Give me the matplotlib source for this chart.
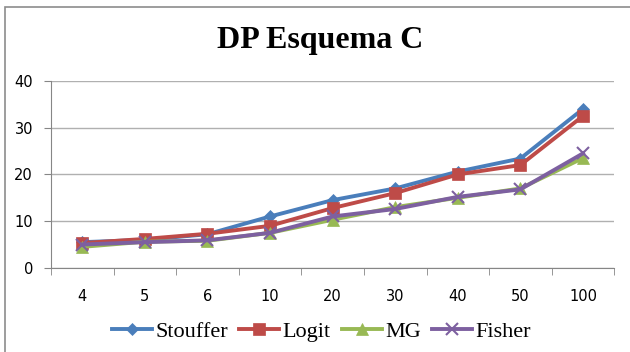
import matplotlib
matplotlib.use("Agg")
import matplotlib.pyplot as plt
from matplotlib.patches import Rectangle
import numpy as np

categories = ["4", "5", "6", "10", "20", "30", "40", "50", "100"]
stouffer = [5.5, 6.0, 7.2, 11.0, 14.5, 17.0, 20.6, 23.4, 34.0]
logit = [5.3, 6.2, 7.3, 9.0, 12.8, 16.0, 20.0, 22.0, 32.5]
mg = [4.5, 5.6, 5.8, 7.5, 10.3, 13.0, 15.0, 17.0, 23.5]
fisher = [5.0, 5.5, 5.9, 7.5, 11.0, 12.6, 15.2, 16.8, 24.5]

series = [
    ("Stouffer", stouffer, "#4A7EBB", "D", 6.5),
    ("Logit", logit, "#BE4B48", "s", 8),
    ("MG", mg, "#98B954", "^", 8.5),
    ("Fisher", fisher, "#7D60A0", "x", 8),
]

fig = plt.figure(figsize=(6.3, 3.52), dpi=100)
# chart-area border (only left and top visible in the crop)
fig.add_artist(Rectangle((5 / 630, -0.05), 1.0, 1.05 - 7 / 352,
                         transform=fig.transFigure, fill=False,
                         edgecolor="#8c8c8c", linewidth=1.2))
ax = fig.add_axes([0.081, 0.239, 0.894, 0.531])

x = np.arange(len(categories))
for name, vals, color, marker, ms in series:
    ax.plot(x, vals, color=color, linewidth=2.8, marker=marker, markersize=ms,
            markeredgecolor=color, markeredgewidth=1.5 if marker == "x" else 0.5,
            label=name)

ax.set_ylim(0, 40)
ax.set_yticks([0, 10, 20, 30, 40])
ax.set_xlim(-0.5, len(categories) - 0.5)
ax.set_xticks(x)
ax.set_xticklabels(categories)
ax.set_xticks(np.arange(-0.5, len(categories)), minor=True)
ax.tick_params(axis="x", which="major", length=0, pad=15)
ax.tick_params(axis="x", which="minor", length=5, color="#868686")
ax.tick_params(axis="y", length=5, color="#868686", pad=8)
ax.tick_params(labelsize=10.5)
ax.grid(axis="y", color="#b0b0b0", linewidth=1)
ax.set_axisbelow(True)
for s in ["top", "right"]:
    ax.spines[s].set_visible(False)
for s in ["left", "bottom"]:
    ax.spines[s].set_color("#868686")

fig.text(0.508, 0.886, "DP Esquema C", ha="center", va="center",
         fontsize=23, fontweight="bold", family="Liberation Serif")

fig.legend(loc="center", bbox_to_anchor=(0.51, 0.058), ncol=4, frameon=False,
           prop={"family": "Liberation Serif", "size": 16}, handlelength=1.8,
           columnspacing=0.5, handletextpad=0.15, borderaxespad=0)

fig.savefig("out.png", dpi=100)
